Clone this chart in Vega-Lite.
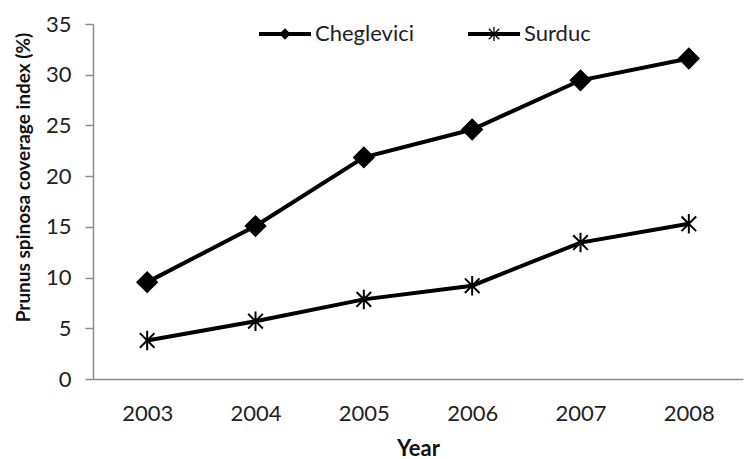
{
  "$schema": "https://vega.github.io/schema/vega-lite/v6.json",
  "autosize": "none",
  "width": 650,
  "height": 355,
  "padding": {"left": 93, "top": 24, "right": 1, "bottom": 80},
  "background": "white",
  "config": {
    "view": {"stroke": null},
    "font": "Lato",
    "axis": {"labelFont": "Lato", "titleFont": "Lato", "labelColor": "#222222", "titleColor": "#111111", "grid": false, "domainColor": "#8c8c8c", "tickColor": "#8c8c8c", "domainWidth": 1.5, "tickWidth": 1.5}
  },
  "data": {
    "values": [
      {"year": "2003", "series": "Cheglevici", "value": 9.55},
      {"year": "2004", "series": "Cheglevici", "value": 15.08},
      {"year": "2005", "series": "Cheglevici", "value": 21.85},
      {"year": "2006", "series": "Cheglevici", "value": 24.6},
      {"year": "2007", "series": "Cheglevici", "value": 29.45},
      {"year": "2008", "series": "Cheglevici", "value": 31.6},
      {"year": "2003", "series": "Surduc", "value": 3.8},
      {"year": "2004", "series": "Surduc", "value": 5.7},
      {"year": "2005", "series": "Surduc", "value": 7.85},
      {"year": "2006", "series": "Surduc", "value": 9.2},
      {"year": "2007", "series": "Surduc", "value": 13.45},
      {"year": "2008", "series": "Surduc", "value": 15.3}
    ]
  },
  "encoding": {
    "x": {
      "field": "year", "type": "ordinal",
      "scale": {"type": "point", "padding": 0.5},
      "axis": {"title": "Year", "labelAngle": 0, "ticks": false, "labelFontSize": 22, "labelPadding": 24, "titleFontSize": 22, "titleFontWeight": "bold", "titlePadding": 14}
    },
    "y": {
      "field": "value", "type": "quantitative",
      "scale": {"domain": [0, 35]},
      "axis": {"title": "Prunus spinosa coverage index (%)", "values": [0, 5, 10, 15, 20, 25, 30, 35], "labelFontSize": 22, "tickSize": 8, "labelPadding": 14, "titleFontSize": 19, "titleFontWeight": "bold", "titleX": -70, "titleY": 153, "titleBaseline": "middle", "titleAlign": "center"}
    }
  },
  "layer": [
    {
      "mark": {"type": "line", "color": "black", "strokeWidth": 4},
      "encoding": {"detail": {"field": "series"}}
    },
    {
      "mark": {"type": "point", "filled": true, "color": "black", "stroke": "black", "strokeWidth": 2, "opacity": 1, "size": 380},
      "encoding": {
        "shape": {
          "field": "series", "type": "nominal",
          "scale": {"domain": ["Cheglevici", "Surduc"], "range": ["diamond", "M0,-1V1M-0.75,-0.75L0.75,0.75M-0.75,0.75L0.75,-0.75"]},
          "legend": null
        }
      }
    },
    {
      "mark": {"type": "point", "filled": true, "color": "black", "opacity": 0, "size": 10},
      "encoding": {
        "shape": {
          "field": "series", "type": "nominal",
          "scale": {"domain": ["Cheglevici", "Surduc"], "range": ["M-1,-0.075H1V0.075H-1ZM0,-0.22L0.22,0L0,0.22L-0.22,0Z", "M-1,-0.075H1V0.075H-1ZM-0.025,-0.27H0.025V0.27H-0.025ZM-0.218,-0.182L-0.182,-0.218L0.218,0.182L0.182,0.218ZM-0.218,0.182L0.182,-0.218L0.218,-0.182L-0.182,0.218Z"]},
          "legend": {
            "title": null, "orient": "none", "direction": "horizontal", "legendX": 166, "legendY": -16,
            "symbolSize": 2704, "symbolOpacity": 1, "symbolFillColor": "black", "symbolStrokeColor": "black", "symbolStrokeWidth": 0,
            "labelFontSize": 22, "labelColor": "#222222", "labelOffset": 4, "columnPadding": 53, "labelFont": "Lato"
          }
        }
      }
    }
  ],
  "resolve": {"scale": {"shape": "independent"}, "legend": {"shape": "independent"}}
}
